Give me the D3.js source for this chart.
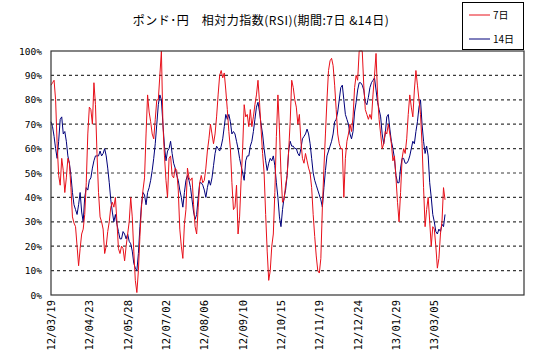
<!DOCTYPE html>
<html>
<head>
<meta charset="utf-8">
<script src="https://cdn.jsdelivr.net/npm/d3@7"></script>
<style>
  body { margin: 0; background: #fff; }
</style>
</head>
<body>
<div id="chart"></div>
<script>
// RSI 7日 (red), one value per trading day from 12/03/19
var rsi7 = [
  86, 87, 88, 80, 62, 49, 45, 56, 51, 42, 48, 56, 54, 44, 32, 29.5, 28, 20, 12, 19,
  25, 27, 33, 46, 66, 77, 76, 70, 87, 78, 58, 42, 32, 30, 27, 17, 20, 26, 30, 36,
  38, 36, 40, 30, 19, 17, 20, 19, 14, 20, 25, 30, 40, 32, 18, 6, 1, 10, 24, 36,
  43, 48, 66, 82, 75, 71, 66, 64, 72, 80, 80, 90, 100, 70, 57, 47, 40, 56, 57, 49,
  48, 52, 51, 43, 27, 20, 15, 29, 35, 52, 48, 47, 48, 37, 28, 25, 36, 46, 49, 46,
  47, 52, 59, 64, 70, 66, 62, 66, 73, 82, 90, 92, 89, 91, 84, 76, 67, 60, 46, 35,
  36, 45, 25, 32, 47, 60, 78, 73, 74, 69, 76, 69, 73, 78, 82, 88, 79, 68, 58, 50,
  33, 18, 6, 10, 20, 25, 42, 65, 82, 68, 50, 38, 39, 45, 49, 59, 71, 88, 85, 80,
  77, 70, 74, 63, 56, 54, 58, 55, 52, 50, 44, 33, 24, 16, 10, 9, 15, 36, 52, 66,
  80, 92, 96, 97, 94, 86, 76, 66, 62, 60, 60, 40, 56, 63, 66, 70, 67, 73, 85, 90,
  88, 100, 100, 100, 86, 76, 74, 72, 74, 72, 82, 90, 99, 82, 72, 66, 60, 62, 67, 66,
  70, 66, 62, 55, 57, 48, 38, 30, 42, 56, 60, 58, 64, 74, 82, 77, 73, 84, 92, 86,
  80, 74, 62, 44, 28, 35, 40, 30, 20, 28, 27, 20, 11, 15, 25, 30, 44, 39
];

// RSI 14日 (navy)
var rsi14 = [
  71, 69, 65, 60, 56, 63, 72, 73, 66, 67, 63, 57, 54, 49, 42, 37, 35, 33, 37, 42,
  34, 30, 40, 44, 43, 47, 48, 52, 55, 57, 57, 57, 59, 57, 58, 60, 57, 52, 46, 39,
  34, 30, 33, 29, 26, 23, 23, 26, 25, 23, 25, 22, 21, 18, 13, 11, 10, 17, 28, 37,
  42, 41, 37, 42, 44, 47, 51, 56, 62, 70, 78, 82, 80, 70, 61, 55, 59, 60, 63, 58,
  54, 52, 49, 47, 43, 40, 36, 42, 47, 49, 47, 44, 39, 34, 31, 33, 40, 46, 46, 45,
  43, 40, 44, 47, 45, 48, 53, 58, 61, 60, 59, 61, 64, 69, 74, 72, 74, 71, 66, 67,
  66, 63, 60, 56, 53, 50, 47, 55, 57, 57, 61, 63, 67, 72, 77, 79, 75, 70, 66, 60,
  55, 51, 54, 56, 55, 57, 53, 46, 40, 32, 28, 35, 40, 43, 49, 59, 63, 61, 61, 60,
  60, 58, 57, 60, 64, 65, 66, 68, 66, 62, 56, 50, 47, 45, 43, 41, 39, 36, 44, 51,
  57, 59, 61, 63, 66, 71, 72, 75, 80, 85, 86, 80, 74, 72, 70, 66, 64, 67, 75, 79,
  84, 87, 87, 86, 84, 79, 78, 81, 85, 87, 88, 89, 84, 79, 76, 73, 66, 62, 66, 73,
  74, 68, 63, 60, 56, 49, 46, 46, 52, 56, 56, 54, 54, 55, 57, 60, 63, 62, 67, 71,
  77, 80, 70, 63, 58, 61, 57, 46, 40, 33, 30, 26, 25, 27, 26, 29, 28, 33
];

var dateLabels = ["12/03/19", "12/04/23", "12/05/28", "12/07/02", "12/08/06", "12/09/10",
                  "12/10/15", "12/11/19", "12/12/24", "13/01/29", "13/03/05"];
var labelEvery = 25;
var yTicks = [0, 10, 20, 30, 40, 50, 60, 70, 80, 90, 100];
var seriesNames = ["7日", "14日"];
var seriesColors = ["#e8101a", "#00007a"];

var svg = d3.select("#chart")
  .append("svg")
  .attr("width", 533)
  .attr("height", 364);

var plotLeft = 51, plotRight = 524, plotTop = 51, plotBottom = 295;

var x = d3.scaleLinear().domain([0, 308.5]).range([plotLeft, plotRight]);
var y = d3.scaleLinear().domain([0, 100]).range([plotBottom, plotTop]);

// title
svg.append("text")
  .attr("x", 261)
  .attr("y", 25)
  .attr("text-anchor", "middle")
  .style("font-family", "'Noto Sans CJK JP', sans-serif")
  .style("font-size", "12px")
  .style("letter-spacing", "0.5px")
  .attr("fill", "#000")
  .text("ポンド･円　相対力指数(RSI)(期間:7日 &14日)");

// dashed grid lines
svg.append("g")
  .selectAll("line")
  .data(yTicks.filter(d => d > 0 && d < 100))
  .enter()
  .append("line")
  .attr("x1", plotLeft)
  .attr("x2", plotRight)
  .attr("y1", d => y(d))
  .attr("y2", d => y(d))
  .attr("stroke", "#3a3a3a")
  .attr("stroke-width", 1.2)
  .attr("stroke-dasharray", "3,3");

// y labels
svg.append("g")
  .selectAll("text")
  .data(yTicks)
  .enter()
  .append("text")
  .attr("x", 42)
  .attr("y", d => y(d) + 3.5)
  .attr("text-anchor", "end")
  .style("font-family", "'DejaVu Sans Mono', monospace")
  .style("font-size", "9.5px")
  .attr("fill", "#000")
  .text(d => d + "%");

// x labels (rotated)
svg.append("g")
  .selectAll("text")
  .data(dateLabels)
  .enter()
  .append("text")
  .attr("transform", (d, i) => "translate(" + (x(i * labelEvery) + 4) + ",300) rotate(-90)")
  .attr("text-anchor", "end")
  .style("font-family", "'DejaVu Sans Mono', monospace")
  .style("font-size", "10.5px")
  .attr("fill", "#000")
  .text(d => d);

// lines
var line = d3.line()
  .x((d, i) => x(i))
  .y(d => y(d));

svg.append("path")
  .datum(rsi14)
  .attr("fill", "none")
  .attr("stroke", seriesColors[1])
  .attr("stroke-width", 1)
  .attr("d", line);

svg.append("path")
  .datum(rsi7)
  .attr("fill", "none")
  .attr("stroke", seriesColors[0])
  .attr("stroke-width", 1)
  .attr("d", line);

// plot border
svg.append("rect")
  .attr("x", plotLeft)
  .attr("y", plotTop)
  .attr("width", plotRight - plotLeft)
  .attr("height", plotBottom - plotTop)
  .attr("fill", "none")
  .attr("stroke", "#333")
  .attr("stroke-width", 1.2);

// legend
var legend = svg.append("g");
legend.append("rect")
  .attr("x", 462.5)
  .attr("y", 2.5)
  .attr("width", 61)
  .attr("height", 47)
  .attr("fill", "#fff")
  .attr("stroke", "#000");

seriesNames.forEach(function(name, k) {
  var ly = 15 + k * 24;
  legend.append("line")
    .attr("x1", 469)
    .attr("x2", 490)
    .attr("y1", ly)
    .attr("y2", ly)
    .attr("stroke", seriesColors[k])
    .attr("stroke-width", 1);
  legend.append("text")
    .attr("x", 493)
    .attr("y", ly + 4)
    .style("font-family", "'Noto Sans CJK JP', sans-serif")
    .style("font-size", "10px")
    .attr("fill", "#000")
    .text(name);
});
</script>
</body>
</html>
